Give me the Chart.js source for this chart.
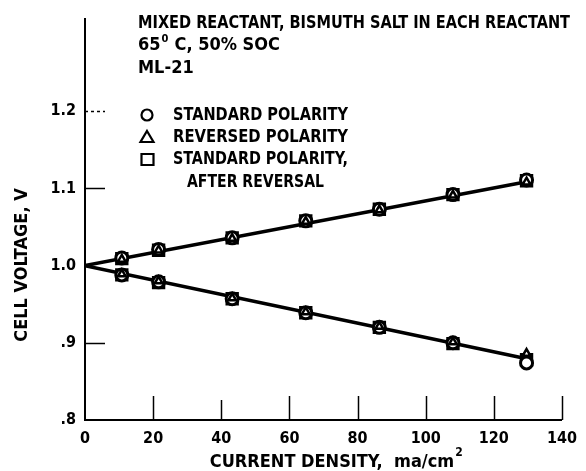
<!DOCTYPE html>
<html>
<head>
<meta charset="utf-8">
<script src="https://cdn.jsdelivr.net/npm/chart.js@4"></script>
<style>
  html, body { margin: 0; padding: 0; background: #fff; }
  #wrap { width: 586px; height: 471px; }
</style>
</head>
<body>
<div id="wrap"><canvas id="grafik" width="586" height="471"></canvas></div>
<script>
// current density, ma/cm2
const currentDensity = [10.8, 21.6, 43.2, 64.8, 86.4, 108, 129.6];

// cell voltage, V (upper branch / lower branch)
const standardUp = [1.010, 1.021, 1.036, 1.058, 1.073, 1.092, 1.111];
const standardDown = [0.988, 0.979, 0.957, 0.939, 0.920, 0.900, 0.874];
const reversedUp = [1.008, 1.020, 1.035, 1.057, 1.072, 1.091, 1.108];
const reversedDown = [0.989, 0.980, 0.958, 0.940, 0.921, 0.901, 0.886];
const afterUp = [1.009, 1.020, 1.036, 1.058, 1.073, 1.092, 1.110];
const afterDown = [0.988, 0.978, 0.957, 0.939, 0.920, 0.899, 0.878];

// drawn lines through the points
const fitX = [0, 130];
const fitUp = [1.0, 1.109];
const fitDown = [1.0, 0.879];

const xTicks = [0, 20, 40, 60, 80, 100, 120, 140];
const yTicks = [0.8, 0.9, 1.0, 1.1, 1.2];
const yTickLabels = [".8", ".9", "1.0", "1.1", "1.2"];

const FONT = "'Liberation Sans Narrow', 'DejaVu Sans Condensed', 'Arial Narrow', sans-serif";

function pts(xs, ys) {
    return xs.map((x, i) => ({ x: x, y: ys[i] }));
}

const marker = {
    circle: { pointStyle: "circle", pointRadius: 6, pointBorderWidth: 3 },
    triangle: { pointStyle: "triangle", pointRadius: 4.5, pointBorderWidth: 2.5 },
    rect: { pointStyle: "rect", pointRadius: 7, pointBorderWidth: 3.5 }
};

function scatterSet(label, up, down, m, order) {
    return Object.assign({
        type: "scatter",
        label: label,
        data: pts(currentDensity, up).concat(pts(currentDensity, down)),
        borderColor: "#000",
        backgroundColor: "#fff",
        order: order
    }, m);
}

function lineSet(ys) {
    return {
        type: "line",
        data: pts(fitX, ys),
        borderColor: "#000",
        borderWidth: 3.5,
        pointRadius: 0,
        fill: false,
        order: 5
    };
}

// inward ticks, titles, and legend text
const decorations = {
    id: "decorations",
    afterDatasetsDraw(chart) {
        const ctx = chart.ctx;
        const xs = chart.scales.x, ys = chart.scales.y;
        const left = chart.chartArea.left, bottom = chart.chartArea.bottom;
        ctx.save();
        ctx.strokeStyle = "#000";
        ctx.lineWidth = 1.5;
        xTicks.forEach(v => {
            if (v === 0) return;
            const px = Math.round(xs.getPixelForValue(v)) + 0.5;
            ctx.beginPath();
            ctx.moveTo(px, bottom);
            ctx.lineTo(px, bottom - (v === 40 ? 20 : 24));
            ctx.stroke();
        });
        [0.9, 1.1, 1.2].forEach(v => {
            const py = Math.round(ys.getPixelForValue(v)) + 0.5;
            ctx.beginPath();
            if (v === 1.2) ctx.setLineDash([3, 3]); else ctx.setLineDash([]);
            ctx.moveTo(left, py);
            ctx.lineTo(left + 20, py);
            ctx.stroke();
        });
        ctx.setLineDash([]);

        ctx.fillStyle = "#000";
        ctx.textBaseline = "middle";
        ctx.textAlign = "left";

        // header text
        ctx.font = "bold 18px " + FONT;
        ctx.fillText("MIXED REACTANT, BISMUTH SALT IN EACH REACTANT", 138, 23, 432);
        ctx.fillText("65", 138, 45);
        let w = ctx.measureText("65").width;
        ctx.font = "bold 11px " + FONT;
        ctx.fillText("0", 138 + w + 1, 39);
        ctx.font = "bold 18px " + FONT;
        ctx.fillText("C, 50% SOC", 138 + w + 14, 45);
        ctx.fillText("ML-21", 138, 68);

        // legend
        const rows = [
            { y: 115, text: "STANDARD POLARITY", style: "circle" },
            { y: 137, text: "REVERSED POLARITY", style: "triangle" },
            { y: 159, text: "STANDARD POLARITY,", style: "rect" }
        ];
        ctx.font = "bold 18px " + FONT;
        rows.forEach(r => {
            ctx.fillText(r.text, 173, r.y, 175);
            ctx.strokeStyle = "#000";
            ctx.lineWidth = 2.2;
            ctx.beginPath();
            if (r.style === "circle") {
                ctx.arc(147, r.y, 5.5, 0, Math.PI * 2);
            } else if (r.style === "triangle") {
                ctx.moveTo(147, r.y - 6);
                ctx.lineTo(153.5, r.y + 5);
                ctx.lineTo(140.5, r.y + 5);
                ctx.closePath();
            } else {
                ctx.rect(141.5, r.y - 5, 12, 11);
            }
            ctx.stroke();
        });
        ctx.fillText("AFTER REVERSAL", 187, 182, 137);

        // x axis title
        ctx.font = "bold 18px " + FONT;
        const xt = "CURRENT DENSITY,  ma/cm";
        const xw = ctx.measureText(xt).width;
        const x0 = 336 - xw / 2 - 4;
        ctx.fillText(xt, x0, 462);
        ctx.font = "bold 12px " + FONT;
        ctx.fillText("2", x0 + xw + 1, 453);

        // y axis title
        ctx.font = "bold 18px " + FONT;
        ctx.translate(22, 265);
        ctx.rotate(-Math.PI / 2);
        ctx.textAlign = "center";
        ctx.fillText("CELL VOLTAGE, V", 0, 0);
        ctx.restore();
    }
};

new Chart(document.getElementById("grafik").getContext("2d"), {
    data: {
        datasets: [
            scatterSet("STANDARD POLARITY", standardUp, standardDown, marker.circle, 2),
            scatterSet("REVERSED POLARITY", reversedUp, reversedDown, marker.triangle, 1),
            scatterSet("STANDARD POLARITY, AFTER REVERSAL", afterUp, afterDown, marker.rect, 3),
            lineSet(fitUp),
            lineSet(fitDown)
        ]
    },
    options: {
        responsive: false,
        animation: false,
        layout: { padding: { top: 18, right: 17, left: 0, bottom: 0 } },
        plugins: {
            legend: { display: false },
            tooltip: { enabled: false }
        },
        scales: {
            x: {
                type: "linear",
                min: 0,
                max: 140,
                afterBuildTicks: s => { s.ticks = xTicks.map(v => ({ value: v })); },
                afterFit: s => { s.height = 51; },
                grid: { display: false, drawTicks: false },
                border: { color: "#000", width: 2 },
                ticks: {
                    color: "#000",
                    padding: 9,
                    maxRotation: 0,
                    font: { family: FONT, size: 16, weight: "bold" }
                }
            },
            y: {
                type: "linear",
                min: 0.8,
                max: 1.32,
                afterBuildTicks: s => { s.ticks = yTicks.map(v => ({ value: v })); },
                afterFit: s => { s.width = 85; },
                grid: { display: false, drawTicks: false },
                border: { color: "#000", width: 2 },
                ticks: {
                    color: "#000",
                    padding: 9,
                    font: { family: FONT, size: 16, weight: "bold" },
                    callback: function (v) {
                        const i = yTicks.findIndex(t => Math.abs(t - v) < 1e-6);
                        return i >= 0 ? yTickLabels[i] : "";
                    }
                }
            }
        }
    },
    plugins: [decorations]
});
</script>
</body>
</html>
